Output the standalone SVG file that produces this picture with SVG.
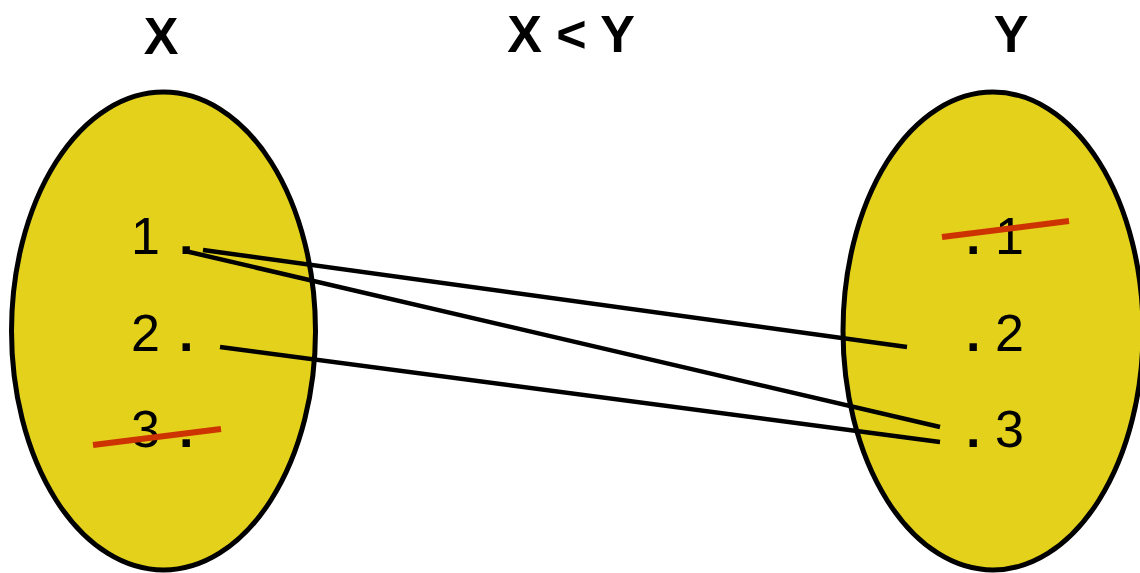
<svg xmlns="http://www.w3.org/2000/svg" width="1140" height="573" viewBox="0 0 1140 573">
<style>
.set{fill:#E3D11C;stroke:#000;stroke-width:5}
.t{font-family:"Liberation Sans",Arial,sans-serif;font-size:52px;fill:#000}
.d{font-weight:bold}
.h{font-family:"Liberation Sans",Arial,sans-serif;font-size:52px;font-weight:bold;fill:#000;text-anchor:middle}
.c{stroke:#000;stroke-width:4.5;fill:none}
.x{stroke:#CC3300;stroke-width:6;fill:none}
</style>
<rect width="1140" height="573" fill="#fff"/>
<g id="title-x"><text class="h" x="161" y="54">X</text></g>
<g id="title-rel"><text class="h" x="571" y="52">X &lt; Y</text></g>
<g id="title-y"><text class="h" x="1011" y="52">Y</text></g>
<g id="set-x">
<ellipse class="set" cx="163.5" cy="331" rx="152" ry="239"/>
<text class="t" y="254"><tspan x="131">1</tspan><tspan class="d" x="179">.</tspan></text>
<text class="t" y="351"><tspan x="131">2</tspan><tspan class="d" x="179">.</tspan></text>
<text class="t" y="447"><tspan x="131">3</tspan><tspan class="d" x="179">.</tspan></text>
<line class="x" x1="93" y1="445" x2="221" y2="429"/>
</g>
<g id="set-y">
<ellipse class="set" cx="993" cy="331" rx="150" ry="239"/>
<text class="t" y="254"><tspan class="d" x="966">.</tspan><tspan x="995">1</tspan></text>
<text class="t" y="351"><tspan class="d" x="966">.</tspan><tspan x="995">2</tspan></text>
<text class="t" y="447"><tspan class="d" x="966">.</tspan><tspan x="995">3</tspan></text>
<line class="x" x1="942" y1="237" x2="1069" y2="221"/>
</g>
<g id="connectors">
<line class="c" x1="203" y1="250" x2="907" y2="347"/>
<line class="c" x1="185" y1="251" x2="940" y2="427"/>
<line class="c" x1="220" y1="347" x2="940" y2="442"/>
</g>
</svg>
